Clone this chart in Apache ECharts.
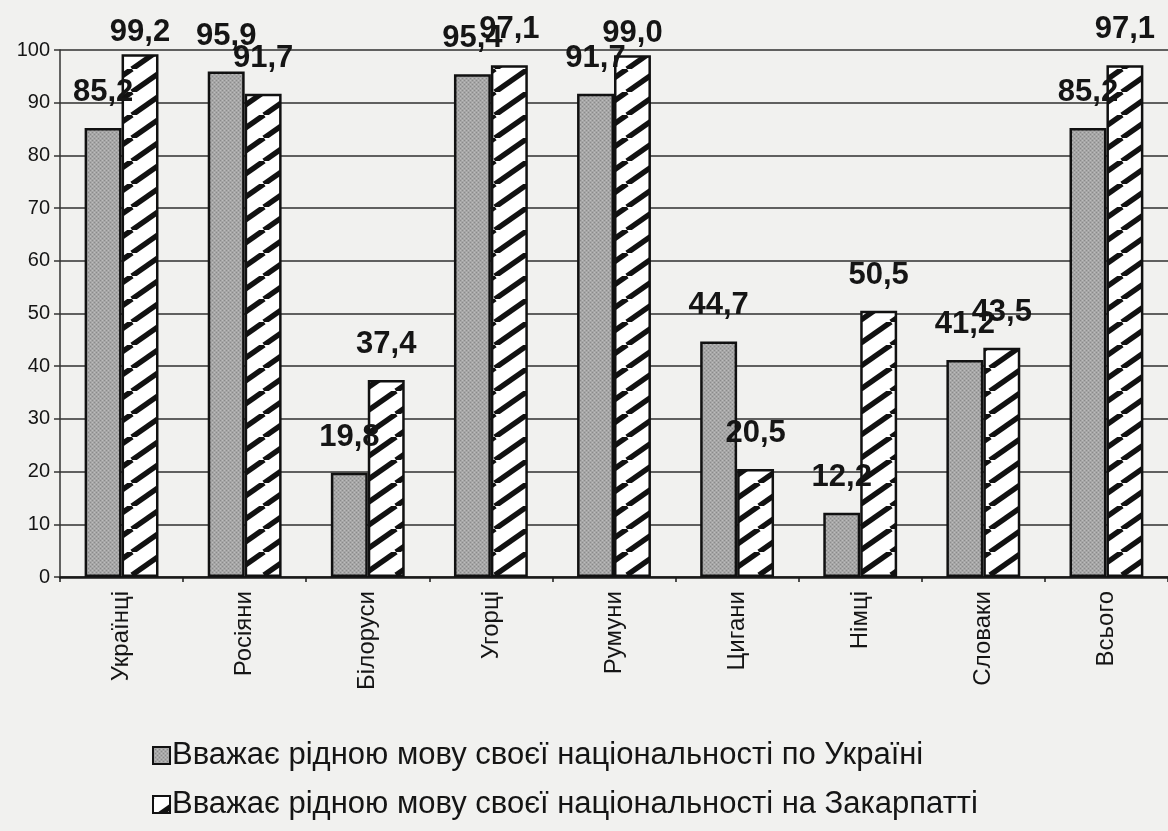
<!DOCTYPE html>
<html>
<head>
<meta charset="utf-8">
<script src="https://cdn.jsdelivr.net/npm/echarts@6/dist/echarts.min.js"></script>
<style>
  html, body { margin: 0; padding: 0; background: #f1f1ef; }
  #chart { width: 1168px; height: 831px; }
</style>
</head>
<body>
<div id="chart"></div>
<script>
// дані
var categories = ['Українці', 'Росіяни', 'Білоруси', 'Угорці', 'Румуни', 'Цигани', 'Німці', 'Словаки', 'Всього'];
var inUkraine = [85.2, 95.9, 19.8, 95.4, 91.7, 44.7, 12.2, 41.2, 85.2];
var inZakarpattia = [99.2, 91.7, 37.4, 97.1, 99.0, 20.5, 50.5, 43.5, 97.1];
var seriesNames = [
    'Вважає рідною мову своєї національності по Україні',
    'Вважає рідною мову своєї національності на Закарпатті'
];
var yTicks = { min: 0, max: 100, interval: 10 };

var font = '"Liberation Sans", Arial, sans-serif';

// сіра крапчаста заливка
function greyPattern() {
    var c = document.createElement('canvas');
    c.width = 4; c.height = 4;
    var ctx = c.getContext('2d');
    ctx.fillStyle = '#a6a6a6';
    ctx.fillRect(0, 0, 4, 4);
    ctx.fillStyle = '#8a8a8a';
    ctx.fillRect(0, 0, 1, 1);
    ctx.fillRect(2, 2, 1, 1);
    ctx.fillStyle = '#bcbcbc';
    ctx.fillRect(2, 0, 1, 1);
    ctx.fillRect(0, 2, 1, 1);
    return c;
}

// штриховка "/"
function hatchPattern() {
    var w = 33, h = 23;
    var c = document.createElement('canvas');
    c.width = w; c.height = h;
    var ctx = c.getContext('2d');
    ctx.fillStyle = '#ffffff';
    ctx.fillRect(0, 0, w, h);
    ctx.strokeStyle = '#111111';
    ctx.lineWidth = 5.5;
    for (var k = -1; k <= 1; k++) {
        ctx.beginPath();
        ctx.moveTo(k * w, h);
        ctx.lineTo(k * w + w, 0);
        ctx.stroke();
    }
    return c;
}

function fmt(v) {
    return v.toFixed(1).replace('.', ',');
}

// підписи, які в оригіналі опущені нижче
var lowLabels = { 0: true, 4: true };

var chart = echarts.init(document.getElementById('chart'));

var barLabel = {
    show: true,
    position: 'top',
    distance: 20,
    fontFamily: font,
    fontSize: 31,
    fontWeight: 'bold',
    color: '#151515',
    formatter: function (p) { return fmt(p.value); }
};

var option = {
    backgroundColor: '#f1f1ef',
    animation: false,
    grid: { left: 60, right: -5, top: 50, bottom: 254 },
    legend: {
        orient: 'vertical',
        left: 152,
        top: 740,
        padding: 0,
        itemWidth: 17,
        itemHeight: 17,
        itemGap: 18,
        icon: 'rect',
        textStyle: { fontFamily: font, fontSize: 31, color: '#151515', padding: [0, 0, 0, -3] },
        data: seriesNames
    },
    xAxis: {
        type: 'category',
        data: categories,
        axisLine: { lineStyle: { color: '#1a1a1a', width: 2.5 } },
        axisTick: { show: true, length: 5, lineStyle: { color: '#1a1a1a', width: 1.5 } },
        axisLabel: {
            interval: 0,
            rotate: 90,
            margin: 14,
            fontFamily: font,
            fontSize: 24,
            color: '#151515'
        }
    },
    yAxis: {
        type: 'value',
        min: yTicks.min,
        max: yTicks.max,
        interval: yTicks.interval,
        axisLine: { show: true, lineStyle: { color: '#333', width: 1.5 } },
        axisTick: { show: true, length: 6, lineStyle: { color: '#333', width: 1.5 } },
        axisLabel: { fontFamily: font, fontSize: 20, color: '#151515', margin: 10 },
        splitLine: { lineStyle: { color: '#2f2f2f', width: 1.6 } }
    },
    series: [
        {
            name: seriesNames[0],
            type: 'bar',
            barGap: '0%',
            barCategoryGap: '40%',
            itemStyle: {
                color: { image: greyPattern(), repeat: 'repeat' },
                borderColor: '#111',
                borderWidth: 2.5
            },
            label: barLabel,
            data: inUkraine
        },
        {
            name: seriesNames[1],
            type: 'bar',
            barGap: '0%',
            barCategoryGap: '40%',
            itemStyle: {
                color: { image: hatchPattern(), repeat: 'repeat' },
                borderColor: '#111',
                borderWidth: 2.5
            },
            label: barLabel,
            data: inZakarpattia.map(function (v, i) {
                return lowLabels[i] ? { value: v, label: { distance: 6 } } : v;
            })
        }
    ]
};

chart.setOption(option);
window.addEventListener('resize', function () {
    chart.resize();
});
</script>
</body>
</html>
